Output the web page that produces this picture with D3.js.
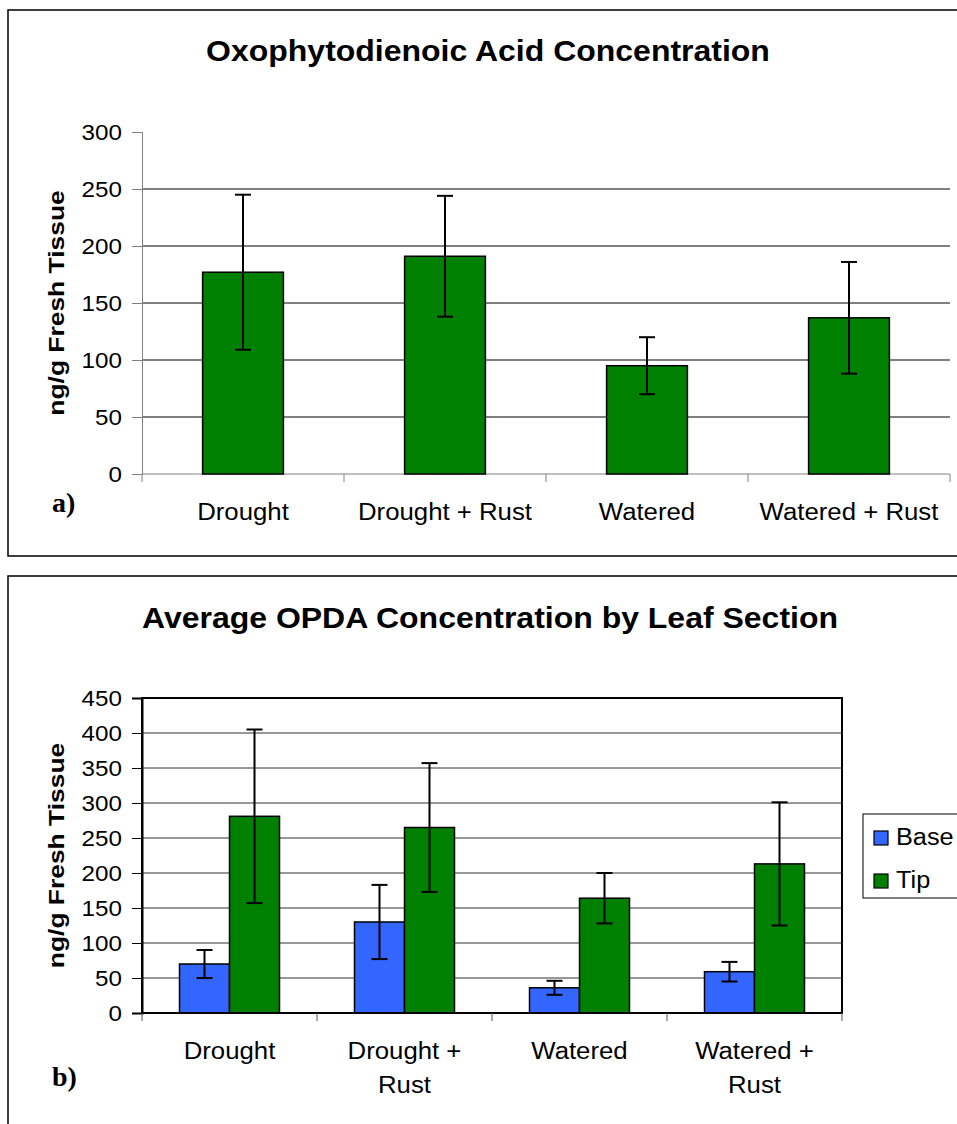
<!DOCTYPE html>
<html>
<head>
<meta charset="utf-8">
<script src="https://cdn.jsdelivr.net/npm/d3@7"></script>
<style>
  body { margin: 0; background: #fff; }
  svg { display: block; font-family: "Liberation Sans", Arial, sans-serif; }
</style>
</head>
<body>
<div id="chart"></div>
<script>
// --- Données ---
const categoriesA = ["Drought", "Drought + Rust", "Watered", "Watered + Rust"];
const opdaMean = [177, 191, 95, 137];
const opdaErr = [68, 53, 25, 49];
const ticksA = [0, 50, 100, 150, 200, 250, 300];

const categoriesB = [["Drought"], ["Drought +", "Rust"], ["Watered"], ["Watered +", "Rust"]];
const sections = ["Base", "Tip"];
const baseMean = [70, 130, 36, 59];
const baseErr = [20, 53, 10, 14];
const tipMean = [281, 265, 164, 213];
const tipErr = [124, 92, 36, 88];
const ticksB = [0, 50, 100, 150, 200, 250, 300, 350, 400, 450];

const colors = { Base: "#3366ff", Tip: "#008000" };

// L'image d'origine est un peu étirée : on élargit le texte en conséquence
function stretch(sel, k) {
    sel.each(function () {
        const L = this.getComputedTextLength();
        this.setAttribute("textLength", L * k);
        this.setAttribute("lengthAdjust", "spacingAndGlyphs");
    });
}

const W = 957, H = 1124;
const svg = d3.select("#chart").append("svg")
    .attr("width", W)
    .attr("height", H);

// Cadres des deux panneaux
svg.append("rect").attr("x", 8).attr("y", 10).attr("width", 980).attr("height", 546)
    .attr("fill", "none").attr("stroke", "#000").attr("stroke-width", 1.5);
svg.append("rect").attr("x", 8).attr("y", 576).attr("width", 980).attr("height", 600)
    .attr("fill", "none").attr("stroke", "#000").attr("stroke-width", 1.5);

// ================= Panneau a) =================
const a = { left: 142, right: 950, top: 132, bottom: 474 };

const xA = d3.scaleBand().domain(categoriesA).range([a.left, a.right]);
const yA = d3.scaleLinear().domain([0, 300]).range([a.bottom, a.top]);

svg.append("text")
    .attr("x", 488).attr("y", 61)
    .attr("text-anchor", "middle")
    .style("font-size", "30px").style("font-weight", "700")
    .text("Oxophytodienoic Acid Concentration")
    .call(stretch, 1.066);

// Grille (pas de ligne à 300)
svg.append("g").selectAll("line")
    .data(ticksA.filter(t => t > 0 && t < 300))
    .join("line")
    .attr("x1", a.left).attr("x2", a.right)
    .attr("y1", d => yA(d)).attr("y2", d => yA(d))
    .attr("stroke", "#000").attr("stroke-width", 1);

// Axe Y
const axA = svg.append("g")
    .attr("transform", `translate(${a.left},0)`)
    .call(d3.axisLeft(yA).tickValues(ticksA).tickSize(10).tickPadding(10));
axA.select(".domain").attr("stroke", "#808080");
axA.selectAll(".tick line").attr("stroke", "#808080");
axA.selectAll("text").style("font-size", "22px").attr("fill", "#000")
    .style("font-family", "Liberation Sans, Arial, sans-serif")
    .call(stretch, 1.1);

// Axe X
const xTicksA = categoriesA.map(c => xA(c)).concat([a.right]);
svg.append("line").attr("x1", a.left).attr("x2", a.right)
    .attr("y1", a.bottom).attr("y2", a.bottom).attr("stroke", "#808080");
svg.append("g").selectAll("line").data(xTicksA).join("line")
    .attr("x1", d => d).attr("x2", d => d)
    .attr("y1", a.bottom).attr("y2", a.bottom + 8)
    .attr("stroke", "#808080");
svg.append("g").selectAll("text").data(categoriesA).join("text")
    .attr("x", d => xA(d) + xA.bandwidth() / 2)
    .attr("y", 520)
    .attr("text-anchor", "middle")
    .style("font-size", "23px")
    .text(d => d)
    .call(stretch, 1.12);

// Barres
const barWA = xA.bandwidth() / 2.5;
svg.append("g").selectAll("rect").data(categoriesA).join("rect")
    .attr("x", d => xA(d) + (xA.bandwidth() - barWA) / 2)
    .attr("y", (d, i) => yA(opdaMean[i]))
    .attr("width", barWA)
    .attr("height", (d, i) => yA(0) - yA(opdaMean[i]))
    .attr("fill", "#008000")
    .attr("stroke", "#000").attr("stroke-width", 1.5);

// Barres d'erreur
const errA = svg.append("g").attr("stroke", "#000").attr("stroke-width", 2);
categoriesA.forEach((c, i) => {
    const cx = xA(c) + xA.bandwidth() / 2;
    const y1 = yA(opdaMean[i] + opdaErr[i]), y2 = yA(opdaMean[i] - opdaErr[i]);
    errA.append("line").attr("x1", cx).attr("x2", cx).attr("y1", y1).attr("y2", y2);
    errA.append("line").attr("x1", cx - 8).attr("x2", cx + 8).attr("y1", y1).attr("y2", y1);
    errA.append("line").attr("x1", cx - 8).attr("x2", cx + 8).attr("y1", y2).attr("y2", y2);
});

svg.append("text")
    .attr("transform", `translate(64,${(a.top + a.bottom) / 2}) rotate(-90)`)
    .attr("text-anchor", "middle")
    .style("font-size", "22px").style("font-weight", "700")
    .text("ng/g Fresh Tissue")
    .call(stretch, 1.2);

svg.append("text")
    .attr("x", 52).attr("y", 512)
    .style("font-family", "Liberation Serif, Times New Roman, serif")
    .style("font-size", "28px").style("font-weight", "700")
    .text("a)");

// ================= Panneau b) =================
const b = { left: 142, right: 842, top: 698, bottom: 1013 };

const xB = d3.scaleBand().domain(d3.range(categoriesB.length)).range([b.left, b.right]);
const barWB = xB.bandwidth() / 3.5;
const xSub = d3.scaleBand().domain(sections)
    .range([(xB.bandwidth() - 2 * barWB) / 2, (xB.bandwidth() + 2 * barWB) / 2]);
const yB = d3.scaleLinear().domain([0, 450]).range([b.bottom, b.top]);

svg.append("text")
    .attr("x", 490).attr("y", 628)
    .attr("text-anchor", "middle")
    .style("font-size", "30px").style("font-weight", "700")
    .text("Average OPDA Concentration by Leaf Section")
    .call(stretch, 1.066);

svg.append("g").selectAll("line")
    .data(ticksB.filter(t => t > 0 && t < 450))
    .join("line")
    .attr("x1", b.left).attr("x2", b.right)
    .attr("y1", d => yB(d)).attr("y2", d => yB(d))
    .attr("stroke", "#333").attr("stroke-width", 1);

// Barres groupées
const series = [
    { key: "Base", mean: baseMean, err: baseErr },
    { key: "Tip", mean: tipMean, err: tipErr }
];
const bars = svg.append("g");
const errB = svg.append("g").attr("stroke", "#000").attr("stroke-width", 2);
series.forEach(s => {
    categoriesB.forEach((c, i) => {
        const x = xB(i) + xSub(s.key);
        bars.append("rect")
            .attr("x", x).attr("y", yB(s.mean[i]))
            .attr("width", xSub.bandwidth())
            .attr("height", yB(0) - yB(s.mean[i]))
            .attr("fill", colors[s.key])
            .attr("stroke", "#000").attr("stroke-width", 1.5);
        const cx = x + xSub.bandwidth() / 2;
        const y1 = yB(s.mean[i] + s.err[i]), y2 = yB(s.mean[i] - s.err[i]);
        errB.append("line").attr("x1", cx).attr("x2", cx).attr("y1", y1).attr("y2", y2);
        errB.append("line").attr("x1", cx - 8).attr("x2", cx + 8).attr("y1", y1).attr("y2", y1);
        errB.append("line").attr("x1", cx - 8).attr("x2", cx + 8).attr("y1", y2).attr("y2", y2);
    });
});

// Cadre de la zone de tracé
svg.append("rect")
    .attr("x", b.left).attr("y", b.top)
    .attr("width", b.right - b.left).attr("height", b.bottom - b.top)
    .attr("fill", "none").attr("stroke", "#000").attr("stroke-width", 2);

const axB = svg.append("g")
    .attr("transform", `translate(${b.left},0)`)
    .call(d3.axisLeft(yB).tickValues(ticksB).tickSize(10).tickPadding(10));
axB.select(".domain").attr("stroke", "#000").attr("stroke-width", 2);
axB.selectAll(".tick line").attr("stroke", "#000");
axB.selectAll("text").style("font-size", "22px").attr("fill", "#000")
    .style("font-family", "Liberation Sans, Arial, sans-serif")
    .call(stretch, 1.1);

const xTicksB = d3.range(categoriesB.length).map(i => xB(i)).concat([b.right]);
svg.append("g").selectAll("line").data(xTicksB).join("line")
    .attr("x1", d => d).attr("x2", d => d)
    .attr("y1", b.bottom).attr("y2", b.bottom + 8)
    .attr("stroke", "#555");

// Étiquettes sur une ou deux lignes
const labB = svg.append("g");
categoriesB.forEach((lines, i) => {
    lines.forEach((t, j) => {
        labB.append("text")
            .attr("x", xB(i) + xB.bandwidth() / 2)
            .attr("y", 1059 + j * 34)
            .attr("text-anchor", "middle")
            .style("font-size", "23px")
            .text(t)
            .call(stretch, 1.12);
    });
});

svg.append("text")
    .attr("transform", `translate(64,${(b.top + b.bottom) / 2}) rotate(-90)`)
    .attr("text-anchor", "middle")
    .style("font-size", "22px").style("font-weight", "700")
    .text("ng/g Fresh Tissue")
    .call(stretch, 1.2);

svg.append("text")
    .attr("x", 52).attr("y", 1086)
    .style("font-family", "Liberation Serif, Times New Roman, serif")
    .style("font-size", "28px").style("font-weight", "700")
    .text("b)");

// Légende
const legend = svg.append("g");
legend.append("rect")
    .attr("x", 863).attr("y", 814).attr("width", 120).attr("height", 84)
    .attr("fill", "#fff").attr("stroke", "#000").attr("stroke-width", 1);
sections.forEach((s, i) => {
    const y = 831 + i * 43;
    legend.append("rect")
        .attr("x", 874).attr("y", y).attr("width", 14).attr("height", 14)
        .attr("fill", colors[s]).attr("stroke", "#000").attr("stroke-width", 1.2);
    legend.append("text")
        .attr("x", 896).attr("y", y + 14)
        .style("font-size", "23px")
        .text(s)
        .call(stretch, 1.1);
});
</script>
</body>
</html>
